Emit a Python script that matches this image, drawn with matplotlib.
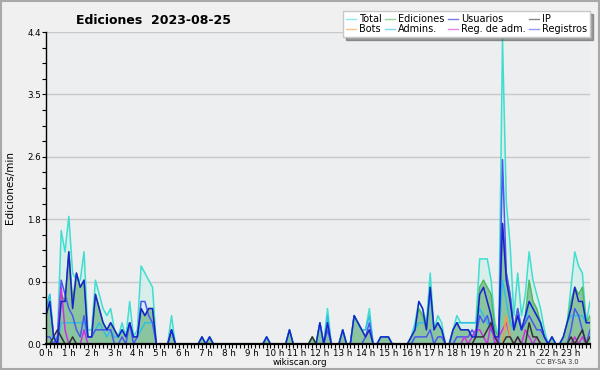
import matplotlib
matplotlib.use("Agg")
import matplotlib.pyplot as plt
import numpy as np
from matplotlib.patches import Rectangle

# edits per 10-minute bin, one row of six per hour (0 h .. 23 h)
total = [
    5, 7, 1, 1, 16, 13,    18, 10, 9, 9, 13, 2,     2, 9, 7, 5, 4, 5,
    2, 1, 3, 1, 6, 1,      2, 11, 10, 9, 8, 0,      0, 0, 0, 4, 0, 0,
    0, 0, 0, 0, 0, 1,      0, 1, 0, 0, 0, 0,        0, 0, 0, 0, 0, 0,
    0, 0, 0, 0, 1, 0,      0, 0, 0, 0, 2, 0,        0, 0, 0, 0, 1, 0,
    3, 0, 5, 0, 0, 0,      2, 0, 0, 4, 3, 2,        2, 5, 0, 0, 1, 1,
    1, 0, 0, 0, 0, 0,      1, 3, 6, 5, 3, 10,       2, 4, 3, 0, 0, 2,
    4, 3, 3, 3, 3, 3,      12, 12, 12, 9, 3, 1,     43, 20, 14, 4, 10, 4,
    7, 13, 9, 7, 5, 2,     0, 1, 0, 0, 1, 3,        8, 13, 11, 10, 3, 6,
]
ediciones = [
    4, 6, 1, 0, 7, 6,      13, 6, 10, 8, 9, 1,      1, 7, 5, 3, 2, 3,
    2, 1, 2, 1, 3, 1,      1, 5, 4, 5, 5, 0,        0, 0, 0, 2, 0, 0,
    0, 0, 0, 0, 0, 1,      0, 1, 0, 0, 0, 0,        0, 0, 0, 0, 0, 0,
    0, 0, 0, 0, 1, 0,      0, 0, 0, 0, 2, 0,        0, 0, 0, 0, 1, 0,
    3, 0, 3, 0, 0, 0,      2, 0, 0, 4, 3, 2,        1, 2, 0, 0, 1, 1,
    1, 0, 0, 0, 0, 0,      1, 2, 5, 4, 2, 8,        2, 3, 2, 0, 0, 2,
    3, 2, 2, 2, 1, 2,      8, 9, 8, 7, 2, 1,        17, 10, 7, 2, 5, 2,
    4, 9, 6, 5, 3, 1,      0, 1, 0, 0, 1, 3,        6, 8, 7, 8, 3, 4,
]
usuarios = [
    4, 6, 1, 0, 6, 6,      13, 5, 10, 8, 9, 1,      1, 7, 5, 3, 2, 3,
    2, 1, 2, 1, 3, 1,      1, 5, 4, 5, 5, 0,        0, 0, 0, 2, 0, 0,
    0, 0, 0, 0, 0, 1,      0, 1, 0, 0, 0, 0,        0, 0, 0, 0, 0, 0,
    0, 0, 0, 0, 1, 0,      0, 0, 0, 0, 2, 0,        0, 0, 0, 0, 0, 0,
    3, 0, 3, 0, 0, 0,      2, 0, 0, 4, 3, 2,        1, 2, 0, 0, 1, 1,
    1, 0, 0, 0, 0, 0,      1, 2, 6, 5, 2, 8,        2, 3, 2, 0, 0, 2,
    3, 2, 2, 2, 1, 1,      7, 8, 6, 4, 1, 1,        17, 9, 6, 2, 4, 2,
    4, 6, 5, 4, 3, 1,      0, 1, 0, 0, 1, 3,        5, 8, 6, 6, 3, 3,
]
ip = [
    0, 0, 1, 2, 1, 0,      0, 1, 0, 0, 0, 0,        0, 0, 0, 0, 0, 0,
    0, 0, 0, 0, 0, 0,      0, 0, 0, 0, 0, 0,        0, 0, 0, 0, 0, 0,
    0, 0, 0, 0, 0, 0,      0, 0, 0, 0, 0, 0,        0, 0, 0, 0, 0, 0,
    0, 0, 0, 0, 0, 0,      0, 0, 0, 0, 0, 0,        0, 0, 0, 0, 1, 0,
    0, 0, 0, 0, 0, 0,      0, 0, 0, 0, 0, 0,        0, 0, 0, 0, 0, 0,
    0, 0, 0, 0, 0, 0,      0, 0, 0, 0, 0, 0,        0, 0, 0, 0, 0, 0,
    0, 0, 0, 0, 0, 1,      1, 1, 2, 3, 1, 0,        0, 1, 1, 0, 1, 0,
    0, 3, 1, 1, 0, 0,      0, 0, 0, 0, 0, 0,        1, 0, 1, 2, 0, 1,
]
bots = [0] * 120 + [0, 4, 1, 0, 0, 0] + [0] * 18
admins = [
    5, 7, 1, 0, 3, 3,      3, 3, 3, 3, 3, 1,        1, 2, 3, 2, 1, 2,
    1, 1, 2, 1, 3, 1,      1, 2, 3, 3, 3, 0,        0, 0, 0, 2, 0, 0,
    0, 0, 0, 0, 0, 1,      0, 1, 0, 0, 0, 0,        0, 0, 0, 0, 0, 0,
    0, 0, 0, 0, 1, 0,      0, 0, 0, 0, 2, 0,        0, 0, 0, 0, 0, 0,
    3, 0, 4, 0, 0, 0,      2, 0, 0, 4, 3, 2,        2, 4, 0, 0, 1, 1,
    1, 0, 0, 0, 0, 0,      1, 2, 3, 3, 3, 7,        2, 3, 2, 0, 0, 2,
    3, 3, 3, 3, 3, 3,      5, 4, 3, 2, 1, 1,        9, 6, 3, 2, 4, 2,
    3, 6, 5, 4, 3, 1,      0, 1, 0, 0, 1, 3,        4, 4, 4, 4, 3, 3,
]
reg_adm = [
    0, 0, 0, 0, 8, 2,      0, 0, 0, 0, 2, 0,        0, 0, 0, 0, 0, 0,
    0, 0, 0, 0, 0, 0,      0, 0, 0, 0, 0, 0,        0, 0, 0, 0, 0, 0,
    0, 0, 0, 0, 0, 0,      0, 0, 0, 0, 0, 0,        0, 0, 0, 0, 0, 0,
    0, 0, 0, 0, 0, 0,      0, 0, 0, 0, 0, 0,        0, 0, 0, 0, 0, 0,
    0, 0, 0, 0, 0, 0,      0, 0, 0, 0, 0, 0,        0, 0, 0, 0, 0, 0,
    0, 0, 0, 0, 0, 0,      0, 0, 0, 0, 0, 0,        0, 0, 0, 0, 0, 0,
    0, 0, 1, 0, 1, 2,      2, 1, 0, 3, 0, 1,        2, 3, 1, 0, 1, 0,
    2, 1, 0, 1, 0, 0,      0, 0, 0, 0, 0, 0,        0, 1, 0, 1, 0, 0,
]
registros = [
    1, 1, 0, 1, 9, 7,      5, 4, 2, 1, 4, 1,        1, 2, 2, 2, 2, 2,
    0, 0, 1, 0, 3, 0,      1, 6, 6, 4, 3, 0,        0, 0, 0, 2, 0, 0,
    0, 0, 0, 0, 0, 0,      0, 0, 0, 0, 0, 0,        0, 0, 0, 0, 0, 0,
    0, 0, 0, 0, 0, 0,      0, 0, 0, 0, 0, 0,        0, 0, 0, 0, 0, 0,
    0, 0, 2, 0, 0, 0,      0, 0, 0, 0, 0, 0,        1, 3, 0, 0, 0, 0,
    0, 0, 0, 0, 0, 0,      0, 1, 1, 1, 1, 2,        0, 1, 1, 0, 0, 0,
    1, 1, 1, 1, 2, 1,      4, 3, 4, 2, 1, 0,        26, 10, 7, 2, 5, 2,
    3, 4, 3, 2, 2, 1,      0, 0, 0, 0, 0, 0,        2, 5, 4, 2, 0, 2,
]

hour_labels = [f"{h} h" for h in range(24)]
ytick_vals = [0, 0.88, 1.76, 2.64, 3.52, 4.4]
ytick_labels = ["0.0", "0.9", "1.8", "2.6", "3.5", "4.4"]

x = np.arange(len(total)) / 6.0

def rate(counts):
    return np.array(counts) / 10.0

fig = plt.figure(figsize=(6, 3.7), dpi=100, facecolor="#f0f0f0")
fig.patches.append(Rectangle((0.001, 0.002), 0.997, 0.995, transform=fig.transFigure,
                             fill=False, edgecolor="#a8a8a8", linewidth=1.5))
ax = fig.add_axes([46 / 600, 1 - 344 / 370, 544 / 600, 312 / 370])
ax.set_facecolor("#eceef0")

series = [
    ("Total", total, "#40ded0"),
    ("Bots", bots, "#f0a040"),
    ("Ediciones", ediciones, "#50b860"),
    ("Admins.", admins, "#30c0e0"),
    ("Usuarios", usuarios, "#1a22cc"),
    ("Reg. de adm.", reg_adm, "#cc33dd"),
    ("IP", ip, "#333333"),
    ("Registros", registros, "#4a58f0"),
]

ax.fill_between(x, rate(total), color="#d4efeb", alpha=0.85, lw=0)
ax.fill_between(x, rate(ediciones), color="#72b886", alpha=0.75, lw=0)

draw_order = ["Total", "Ediciones", "Admins.", "Registros", "Reg. de adm.", "Bots", "IP", "Usuarios"]
lookup = {name: (vals, col) for name, vals, col in series}
handles = {}
for name in draw_order:
    vals, col = lookup[name]
    ln, = ax.plot(x, rate(vals), color=col, lw=1.1)
    handles[name] = ln

ax.set_xlim(0, x[-1])
ax.set_ylim(0, 4.4)
ax.set_yticks(ytick_vals)
ax.set_yticklabels(ytick_labels)
ax.set_yticks(np.arange(0, 4.41, 0.22), minor=True)
ax.set_xticks(np.arange(24))
ax.set_xticklabels(hour_labels)
ax.set_xticks(x, minor=True)
ax.tick_params(axis="both", which="both", direction="out", length=3, width=0.8,
               labelsize=6.3, pad=0.5, color="black")
ax.grid(axis="y", which="major", color="#c8c8c8", lw=1)
ax.set_axisbelow(True)
for s in ["top", "right"]:
    ax.spines[s].set_visible(False)
ax.spines["left"].set_linewidth(1)
ax.spines["bottom"].set_linewidth(1.6)

fig.text(0.255, 0.945, "Ediciones  2023-08-25", ha="center", va="center",
         fontsize=9, fontweight="bold")
fig.text(0.017, 1 - 188 / 370, "Ediciones/min", rotation=90, ha="center",
         va="center", fontsize=7.5)
fig.text(0.5, 1 - 362.5 / 370, "wikiscan.org", ha="center", va="center", fontsize=6.3)
fig.text(0.965, 1 - 362.5 / 370, "CC BY-SA 3.0", ha="right", va="center",
         fontsize=4.8, color="#333333")

leg_names = ["Total", "Bots", "Ediciones", "Admins.", "Usuarios", "Reg. de adm.", "IP", "Registros"]
leg = fig.legend([handles[n] for n in leg_names], leg_names, ncol=4,
                 loc="upper right", bbox_to_anchor=(590 / 600, 1 - 11 / 370),
                 fontsize=7, frameon=True, fancybox=False, shadow=True,
                 handlelength=1.0, handletextpad=0.3, columnspacing=0.4,
                 labelspacing=0.05, borderpad=0.3, borderaxespad=0)
leg.get_frame().set_edgecolor("#c8c8c8")
leg.get_frame().set_facecolor("white")
for ln in leg.get_lines():
    ln.set_alpha(0.6)
    ln.set_linewidth(1)

fig.savefig("out.png", dpi=100, facecolor=fig.get_facecolor())
